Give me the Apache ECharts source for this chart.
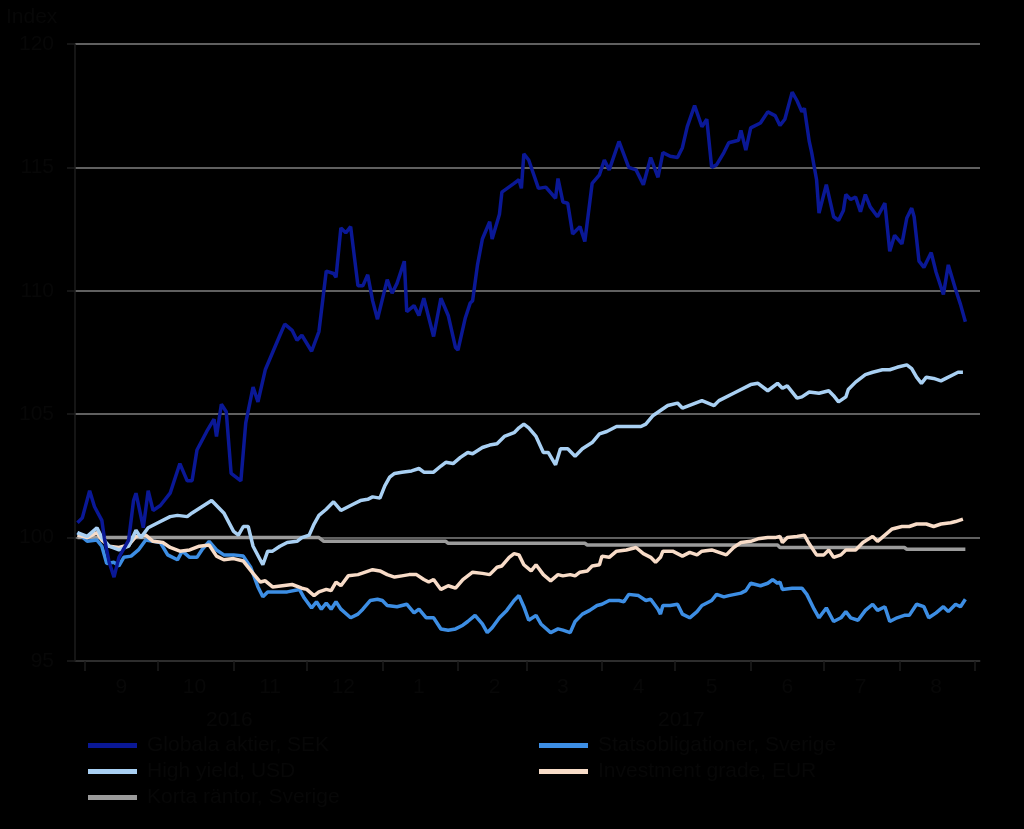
<!DOCTYPE html>
<html>
<head>
<meta charset="utf-8">
<title>Index</title>
<script src="https://cdn.jsdelivr.net/npm/echarts@6/dist/echarts.min.js"></script>
<style>
  html, body { margin: 0; padding: 0; background: #000; }
  #chart { width: 1024px; height: 829px; }
</style>
</head>
<body>
<div id="chart"></div>
<script>
// Dagar räknas från 2016-08-28 (dag 0)
const startDate = '2016-08-28'
const endDate = '2017-09-03'

const seriesNames = [
  'Globala aktier, SEK',
  'Statsobligationer, Sverige',
  'High yield, USD',
  'Investment grade, EUR',
  'Korta räntor, Sverige'
]

const yTicks = [95, 100, 105, 110, 115, 120]
const yearLabels = ['2016', '2017']

// Globala aktier, SEK
const globalDay = [1, 3, 6, 8, 11, 12, 14, 16, 18, 22, 24, 25, 28, 30, 32, 35, 39, 43, 46, 48, 50, 54, 57, 58, 60, 62, 64, 68, 70, 73, 75, 78, 81, 84, 86, 89, 91, 93, 97, 100, 103, 106, 107, 109, 111, 113, 116, 118, 120, 122, 124, 128, 130, 132, 135, 136, 139, 141, 143, 147, 150, 153, 156, 157, 160, 162, 163, 165, 167, 170, 171, 174, 175, 180, 182, 183, 184, 186, 190, 193, 197, 198, 200, 202, 204, 207, 209, 212, 215, 217, 219, 223, 227, 230, 233, 236, 239, 241, 244, 247, 249, 251, 254, 257, 259, 261, 263, 266, 268, 272, 273, 275, 277, 281, 284, 287, 289, 291, 294, 296, 298, 299, 301, 302, 304, 305, 308, 311, 313, 315, 316, 318, 320, 322, 324, 326, 329, 332, 334, 336, 339, 341, 343, 344, 346, 348, 351, 353, 356, 358, 361, 363, 365]
const globalVal = [100.6, 100.8, 101.9, 101.25, 100.7, 100.0, 99.0, 98.4, 99.2, 99.9, 101.5, 101.8, 100.4, 101.9, 101.1, 101.3, 101.8, 103.0, 102.3, 102.3, 103.55, 104.3, 104.8, 104.1, 105.4, 105.1, 102.6, 102.3, 104.65, 106.1, 105.5, 106.8, 107.5, 108.2, 108.65, 108.4, 108.0, 108.2, 107.55, 108.35, 110.8, 110.7, 110.55, 112.55, 112.35, 112.6, 110.2, 110.2, 110.65, 109.6, 108.85, 110.45, 109.9, 110.3, 111.2, 109.15, 109.4, 109.0, 109.7, 108.15, 109.7, 109.0, 107.7, 107.6, 108.9, 109.5, 109.6, 111.05, 112.1, 112.8, 112.1, 113.1, 114.0, 114.35, 114.5, 114.15, 115.55, 115.3, 114.15, 114.2, 113.75, 114.55, 113.6, 113.55, 112.3, 112.6, 112.0, 114.35, 114.7, 115.3, 114.9, 116.05, 115.0, 114.9, 114.3, 115.4, 114.6, 115.6, 115.45, 115.4, 115.8, 116.65, 117.5, 116.65, 116.95, 115.0, 115.1, 115.6, 116.0, 116.1, 116.5, 115.7, 116.6, 116.8, 117.25, 117.1, 116.7, 116.95, 118.05, 117.7, 117.25, 117.4, 116.05, 115.6, 114.5, 113.15, 114.3, 113.0, 112.85, 113.25, 113.9, 113.7, 113.8, 113.2, 113.9, 113.4, 113.0, 113.55, 111.6, 112.25, 111.9, 112.95, 113.35, 113.0, 111.2, 110.95, 111.55, 110.75, 109.85, 111.05, 110.05, 109.45, 108.75]

// Statsobligationer, Sverige
const statsDay = [1, 5, 9, 11, 13, 16, 18, 20, 23, 26, 29, 32, 35, 38, 42, 44, 47, 50, 52, 55, 58, 61, 65, 69, 72, 75, 77, 79, 83, 87, 92, 94, 97, 99, 101, 103, 105, 107, 109, 113, 116, 118, 121, 124, 126, 128, 132, 136, 139, 141, 144, 147, 150, 153, 156, 159, 161, 164, 167, 169, 171, 174, 177, 180, 182, 184, 186, 189, 191, 195, 198, 200, 203, 205, 208, 211, 214, 216, 219, 223, 225, 227, 231, 234, 236, 239, 240, 241, 244, 247, 249, 252, 255, 257, 261, 263, 266, 268, 273, 275, 277, 281, 284, 286, 288, 289, 290, 294, 298, 300, 303, 305, 308, 311, 314, 316, 318, 321, 324, 327, 329, 332, 334, 337, 340, 342, 345, 348, 350, 353, 356, 358, 361, 363, 365]
const statsVal = [100.2, 99.85, 99.9, 99.65, 98.95, 99.0, 98.85, 99.2, 99.25, 99.5, 99.9, 99.85, 99.8, 99.3, 99.1, 99.45, 99.2, 99.2, 99.5, 99.85, 99.5, 99.3, 99.3, 99.25, 98.8, 98.0, 97.6, 97.8, 97.8, 97.8, 97.9, 97.55, 97.15, 97.4, 97.1, 97.35, 97.1, 97.4, 97.1, 96.75, 96.9, 97.1, 97.45, 97.5, 97.45, 97.25, 97.2, 97.3, 96.95, 97.1, 96.75, 96.75, 96.3, 96.25, 96.3, 96.45, 96.6, 96.85, 96.5, 96.15, 96.35, 96.75, 97.05, 97.45, 97.65, 97.2, 96.65, 96.85, 96.5, 96.15, 96.3, 96.25, 96.15, 96.6, 96.9, 97.05, 97.25, 97.3, 97.45, 97.45, 97.4, 97.7, 97.65, 97.45, 97.5, 97.1, 96.9, 97.25, 97.25, 97.3, 96.9, 96.75, 97.0, 97.25, 97.45, 97.7, 97.6, 97.65, 97.75, 97.85, 98.15, 98.05, 98.15, 98.3, 98.15, 98.2, 97.9, 97.95, 97.95, 97.7, 97.1, 96.75, 97.15, 96.6, 96.75, 97.0, 96.75, 96.65, 97.05, 97.3, 97.05, 97.2, 96.6, 96.75, 96.85, 96.85, 97.3, 97.2, 96.75, 96.95, 97.2, 97.0, 97.3, 97.2, 97.5]

// High yield, USD
const highDay = [1, 5, 9, 11, 14, 18, 22, 25, 27, 30, 34, 39, 42, 46, 48, 52, 56, 58, 61, 65, 67, 69, 71, 73, 77, 79, 81, 84, 87, 91, 93, 96, 98, 100, 103, 106, 109, 111, 114, 117, 120, 122, 125, 127, 129, 131, 134, 138, 141, 143, 147, 150, 152, 155, 158, 161, 163, 167, 170, 173, 176, 180, 182, 184, 186, 189, 192, 194, 197, 199, 202, 205, 208, 212, 215, 218, 222, 227, 232, 234, 237, 240, 243, 247, 249, 253, 257, 262, 264, 270, 277, 280, 284, 288, 290, 292, 296, 298, 301, 305, 309, 311, 313, 316, 317, 320, 324, 327, 331, 334, 337, 341, 343, 345, 347, 349, 352, 355, 357, 360, 362, 364]
const highVal = [100.2, 100.05, 100.4, 100.0, 99.65, 99.5, 99.65, 100.3, 100.0, 100.4, 100.6, 100.85, 100.9, 100.85, 101.0, 101.25, 101.5, 101.3, 101.0, 100.25, 100.1, 100.45, 100.45, 99.65, 98.9, 99.45, 99.45, 99.65, 99.8, 99.85, 100.0, 100.1, 100.55, 100.9, 101.15, 101.45, 101.1, 101.2, 101.35, 101.5, 101.55, 101.65, 101.6, 102.1, 102.45, 102.6, 102.65, 102.7, 102.8, 102.65, 102.65, 102.9, 103.05, 103.0, 103.25, 103.45, 103.4, 103.65, 103.75, 103.8, 104.1, 104.25, 104.45, 104.6, 104.45, 104.1, 103.45, 103.45, 102.95, 103.6, 103.6, 103.3, 103.6, 103.85, 104.2, 104.3, 104.5, 104.5, 104.5, 104.6, 104.95, 105.15, 105.35, 105.45, 105.25, 105.4, 105.55, 105.35, 105.55, 105.85, 106.2, 106.25, 105.95, 106.25, 106.05, 106.15, 105.65, 105.7, 105.9, 105.85, 105.95, 105.75, 105.5, 105.7, 106.0, 106.3, 106.6, 106.7, 106.8, 106.8, 106.9, 107.0, 106.85, 106.5, 106.25, 106.5, 106.45, 106.35, 106.45, 106.6, 106.7, 106.7]

// Investment grade, EUR
const igDay = [1, 5, 9, 11, 14, 18, 22, 25, 29, 32, 36, 39, 43, 47, 51, 55, 58, 61, 65, 69, 73, 76, 78, 81, 85, 89, 93, 95, 98, 100, 103, 105, 107, 109, 112, 116, 119, 122, 125, 128, 131, 134, 137, 140, 143, 145, 147, 150, 153, 156, 159, 163, 167, 170, 173, 175, 178, 180, 182, 184, 187, 189, 192, 195, 198, 200, 203, 205, 207, 210, 212, 215, 216, 219, 222, 226, 230, 233, 236, 238, 240, 241, 245, 249, 252, 255, 257, 261, 264, 267, 270, 273, 277, 280, 284, 287, 289, 290, 292, 296, 299, 301, 304, 307, 309, 311, 314, 316, 320, 323, 327, 329, 332, 335, 339, 342, 345, 349, 352, 355, 359, 361, 364]
const igVal = [100.1, 100.0, 100.2, 99.9, 99.65, 99.6, 99.7, 100.05, 100.1, 99.85, 99.8, 99.6, 99.45, 99.5, 99.65, 99.7, 99.25, 99.1, 99.15, 99.05, 98.55, 98.2, 98.25, 98.0, 98.05, 98.1, 97.95, 97.9, 97.65, 97.8, 97.9, 97.85, 98.2, 98.05, 98.45, 98.5, 98.6, 98.7, 98.65, 98.5, 98.4, 98.45, 98.5, 98.5, 98.3, 98.2, 98.3, 97.9, 98.05, 97.95, 98.3, 98.6, 98.55, 98.5, 98.8, 98.85, 99.2, 99.35, 99.3, 98.9, 98.65, 98.9, 98.5, 98.25, 98.5, 98.45, 98.5, 98.45, 98.6, 98.65, 98.85, 98.9, 99.25, 99.2, 99.45, 99.5, 99.6, 99.35, 99.2, 99.0, 99.2, 99.45, 99.45, 99.25, 99.4, 99.3, 99.45, 99.5, 99.4, 99.3, 99.6, 99.8, 99.85, 99.95, 100.0, 100.0, 100.05, 99.8, 100.0, 100.05, 100.1, 99.75, 99.3, 99.3, 99.5, 99.2, 99.3, 99.5, 99.5, 99.8, 100.05, 99.85, 100.1, 100.35, 100.45, 100.45, 100.55, 100.55, 100.45, 100.55, 100.6, 100.65, 100.75]

// Korta räntor, Sverige
const kortaDay = [1, 100, 102, 152, 153, 209, 210, 288, 289, 340, 341, 365]
const kortaVal = [100.0, 100.0, 99.85, 99.85, 99.77, 99.77, 99.7, 99.7, 99.6, 99.6, 99.53, 99.53]

// färger
const colors = {
  global: '#0a1896',
  stats: '#3d8ee4',
  high: '#a9d0f3',
  ig: '#f8dcc8',
  korta: '#9b9b9b'
}

const textColor = '#070707'
const axisColor = '#1c1c1c'
const fontFamily = '"Liberation Sans", Arial, sans-serif'

// kategorier: alla kalenderdagar
const categories = []
for (let t = new Date(startDate + 'T00:00:00Z'); t <= new Date(endDate + 'T00:00:00Z'); t.setUTCDate(t.getUTCDate() + 1)) {
  categories.push(t.toISOString().slice(0, 10))
}

const pairs = (days, vals) => days.map((d, i) => [d, vals[i]])

const lineSeries = (name, color, days, vals) => ({
  name,
  type: 'line',
  data: pairs(days, vals),
  showSymbol: false,
  symbol: 'none',
  lineStyle: { color, width: 3.5 },
  itemStyle: { color },
  animation: false
})

const legendText = { color: textColor, fontSize: 21, lineHeight: 20, padding: [0, 0, 0, 5], fontFamily }

const chart = echarts.init(document.getElementById('chart'))

const option = {
  backgroundColor: '#000',
  textStyle: { fontFamily },
  title: {
    text: 'Index',
    left: 1,
    top: 2,
    textStyle: { color: textColor, fontSize: 21, fontWeight: 'normal', fontFamily }
  },
  grid: { left: 75, right: 44, top: 44, bottom: 168 },
  xAxis: {
    type: 'category',
    data: categories,
    boundaryGap: false,
    axisLine: { lineStyle: { color: axisColor, width: 1.5 } },
    axisTick: {
      interval: (i, v) => v.slice(8) === '01',
      length: 10,
      lineStyle: { color: axisColor, width: 1.5 }
    },
    axisLabel: {
      interval: (i, v) => v.slice(8) === '16',
      formatter: v => String(Number(v.slice(5, 7))),
      color: textColor,
      fontSize: 21,
      margin: 16,
      fontFamily
    },
    splitLine: { show: false }
  },
  yAxis: {
    type: 'value',
    min: yTicks[0],
    max: yTicks[yTicks.length - 1],
    interval: 5,
    axisLine: { show: true, lineStyle: { color: axisColor, width: 1.5 } },
    axisTick: { show: true, length: 8, lineStyle: { color: axisColor, width: 1.5 } },
    axisLabel: { color: textColor, fontSize: 21, margin: 21, fontFamily },
    splitLine: { lineStyle: { color: '#808080', width: 1.5 } }
  },
  legend: [
    {
      left: 83,
      top: 730,
      orient: 'vertical',
      icon: 'rect',
      itemWidth: 49,
      itemHeight: 5,
      itemGap: 5,
      textStyle: legendText,
      data: [seriesNames[0], seriesNames[2], seriesNames[4]]
    },
    {
      left: 534,
      top: 730,
      orient: 'vertical',
      icon: 'rect',
      itemWidth: 49,
      itemHeight: 5,
      itemGap: 5,
      textStyle: legendText,
      data: [seriesNames[1], seriesNames[3]]
    }
  ],
  graphic: [
    {
      type: 'text',
      left: 206,
      top: 710,
      style: { text: yearLabels[0], fill: textColor, fontSize: 21, fontFamily }
    },
    {
      type: 'text',
      left: 658,
      top: 710,
      style: { text: yearLabels[1], fill: textColor, fontSize: 21, fontFamily }
    }
  ],
  series: [
    lineSeries(seriesNames[4], colors.korta, kortaDay, kortaVal),
    lineSeries(seriesNames[1], colors.stats, statsDay, statsVal),
    lineSeries(seriesNames[3], colors.ig, igDay, igVal),
    lineSeries(seriesNames[2], colors.high, highDay, highVal),
    lineSeries(seriesNames[0], colors.global, globalDay, globalVal)
  ],
  animation: false
}

chart.setOption(option)
</script>
</body>
</html>
